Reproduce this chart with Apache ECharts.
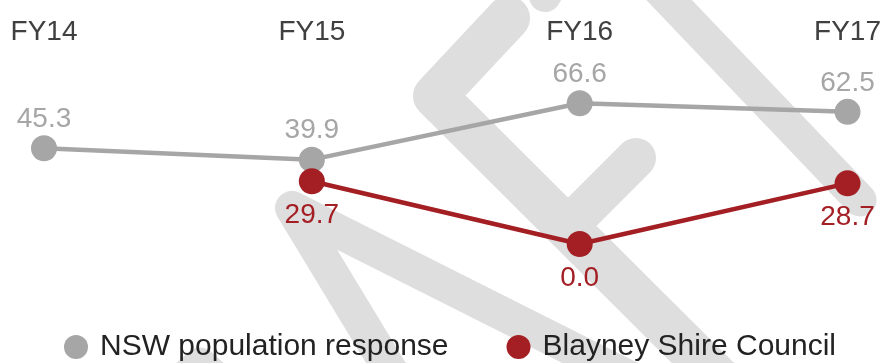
<!DOCTYPE html>
<html>
<head>
<meta charset="utf-8">
<script src="https://cdn.jsdelivr.net/npm/echarts@6/dist/echarts.min.js"></script>
<style>
  html, body { margin: 0; padding: 0; background: #ffffff; }
  #chart { width: 884px; height: 363px; }
</style>
</head>
<body>
<div id="chart"></div>
<script>
const categories = ['FY14', 'FY15', 'FY16', 'FY17'];
const nswValues = [45.3, 39.9, 66.6, 62.5];
const blayneyValues = [null, 29.7, 0.0, 28.7];
const seriesNames = ['NSW population response', 'Blayney Shire Council'];

const GREY = '#a6a6a6';
const RED = '#a31f24';
const WM = '#dedede';

function wm(points, w) {
  return {
    type: 'polyline', z: 0, silent: true,
    shape: { points: points },
    style: { stroke: WM, fill: null, lineWidth: w, lineJoin: 'round', lineCap: 'round' }
  };
}

const chart = echarts.init(document.getElementById('chart'), null, { renderer: 'canvas' });
chart.setOption({
  animation: false,
  backgroundColor: '#ffffff',
  textStyle: { fontFamily: 'Liberation Sans, Arial, sans-serif' },
  graphic: [
    wm([[508, 18], [435, 96], [730, 390]], 44),
    wm([[566, 228], [636, 158]], 40),
    wm([[650, -20], [860, 200]], 33),
    wm([[395, 378], [292, 208], [630, 378]], 34),
    wm([[565, -40], [545, -4]], 32),
    wm([[160, 400], [200, 364], [240, 400]], 33)
  ],
  grid: { left: 44, right: 36, top: 96, bottom: 119, containLabel: false },
  xAxis: {
    type: 'category',
    data: categories,
    position: 'top',
    boundaryGap: false,
    axisLine: { show: false },
    axisTick: { show: false },
    splitLine: { show: false },
    axisLabel: { fontSize: 28, color: '#404040', margin: 50, interval: 0 }
  },
  yAxis: {
    type: 'value', min: 0, max: 70, show: false,
    splitLine: { show: false }
  },
  legend: {
    data: seriesNames,
    left: 59, top: 327,
    icon: 'circle',
    itemWidth: 24, itemHeight: 24,
    itemGap: 58,
    textStyle: { fontSize: 30, color: '#222222', padding: [0, 0, 0, 7] }
  },
  series: [
    {
      name: seriesNames[0], type: 'line', data: nswValues, z: 3,
      symbol: 'circle', symbolSize: 26,
      lineStyle: { color: GREY, width: 4.5 },
      itemStyle: { color: GREY },
      label: { show: true, position: 'top', distance: 2, fontSize: 28, color: GREY,
               formatter: p => p.value.toFixed(1) }
    },
    {
      name: seriesNames[1], type: 'line', data: blayneyValues, z: 4,
      symbol: 'circle', symbolSize: 26,
      lineStyle: { color: RED, width: 4.5 },
      itemStyle: { color: RED },
      label: { show: true, position: 'bottom', distance: 7, fontSize: 28, color: RED,
               formatter: p => p.value.toFixed(1) }
    }
  ]
});
</script>
</body>
</html>
